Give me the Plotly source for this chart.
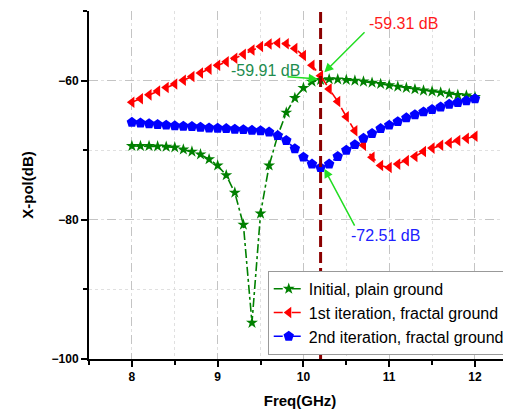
import plotly.graph_objects as go

freq = [round(8.0 + 0.1 * i, 1) for i in range(41)]

initial_plain = [-69.4, -69.4, -69.4, -69.45, -69.5, -69.6, -69.9, -70.2, -70.6, -71.3,
                 -72.2, -73.6, -76.1, -80.7, -94.8, -79.1, -72.2, -67.9, -64.6, -62.5,
                 -61.05, -60.15, -59.91, -59.8, -59.82, -59.9, -60.0, -60.14, -60.3, -60.48,
                 -60.67, -60.86, -61.05, -61.24, -61.43, -61.55, -61.7, -61.9, -62.05, -62.15,
                 -62.35]

iter1_fractal = [-63.1, -62.6, -62.05, -61.5, -61.0, -60.5, -59.95, -59.4, -58.9, -58.35,
                 -57.8, -57.3, -56.8, -56.2, -55.6, -55.1, -54.75, -54.6, -54.7, -55.4,
                 -56.4, -57.8, -59.31, -61.2, -63.0, -65.2, -67.2, -69.3, -71.0, -72.2,
                 -72.5, -72.0, -71.5, -70.9, -70.2, -69.7, -69.3, -68.95, -68.6, -68.3,
                 -68.0]

iter2_fractal = [-66.0, -66.1, -66.2, -66.3, -66.4, -66.5, -66.55, -66.6, -66.7, -66.8,
                 -66.85, -66.9, -67.0, -67.05, -67.15, -67.2, -67.4, -67.9, -68.6, -69.8,
                 -71.0, -72.0, -72.51, -72.0, -70.9, -70.0, -69.2, -68.3, -67.6, -66.9,
                 -66.4, -65.9, -65.35, -64.9, -64.5, -64.15, -63.8, -63.4, -63.15, -62.9,
                 -62.6]

series_names = ["Initial, plain ground", "1st iteration, fractal ground", "2nd iteration, fractal ground"]
marker_freq = 10.2
x_ticks = [8, 9, 10, 11, 12]
y_ticks = [-100, -80, -60]

FONT = "Liberation Sans, Arial, sans-serif"

fig = go.Figure()
fig.add_trace(go.Scatter(
    x=freq, y=initial_plain, name=series_names[0], mode="lines+markers",
    line=dict(color="#008000", width=1.6, dash="dashdot"),
    marker=dict(symbol="star", size=9, color="#008000")))
fig.add_trace(go.Scatter(
    x=freq, y=iter1_fractal, name=series_names[1], mode="lines+markers",
    line=dict(color="#ff0000", width=1.6, dash="dash"),
    marker=dict(symbol="triangle-left", size=10, color="#ff0000")))
fig.add_trace(go.Scatter(
    x=freq, y=iter2_fractal, name=series_names[2], mode="lines+markers",
    line=dict(color="#0000ff", width=1.6, dash="dash"),
    marker=dict(symbol="pentagon", size=11, color="#0000ff")))

fig.add_shape(type="line", xref="x", yref="paper", x0=marker_freq, x1=marker_freq, y0=0, y1=1,
              line=dict(color="#8b0000", width=3, dash="11px,5px"))

arrow_color = "#22dd22"
text_font = dict(family=FONT, size=16)

for tip, tail in [((10.244, -58.81), (10.73, -52.83)),
                  ((10.166, -59.76), (9.797, -59.43)),
                  ((10.244, -72.67), (10.606, -81.05))]:
    fig.add_annotation(x=tip[0], y=tip[1], ax=tail[0], ay=tail[1], xref="x", yref="y",
                       axref="x", ayref="y", text="", showarrow=True, arrowhead=2,
                       arrowsize=1.2, arrowwidth=1.5, arrowcolor=arrow_color)

fig.add_annotation(x=11.17, y=-51.82, text="-59.31 dB", showarrow=False,
                   font=dict(text_font, color="#ff1a1a"))
fig.add_annotation(x=9.553, y=-58.55, text="-59.91 dB", showarrow=False,
                   font=dict(text_font, color="#1e8c4e"))
fig.add_annotation(x=10.96, y=-82.24, text="-72.51 dB", showarrow=False,
                   font=dict(text_font, color="#2020ff"))

axis_common = dict(
    showline=True, linecolor="black", linewidth=2, ticks="outside", ticklen=6,
    tickwidth=2, tickcolor="black", zeroline=False,
    tickfont=dict(family=FONT, size=12, color="black", weight="bold"),
    showgrid=True, gridcolor="#c4c4c4", griddash="dash", gridwidth=1,
)

fig.update_xaxes(
    **axis_common, range=[7.5, 12.42], tickvals=x_ticks,
    minor=dict(dtick=0.5, tick0=7.5, ticks="outside", ticklen=4, tickwidth=2, tickcolor="black",
               showgrid=True, gridcolor="#e0e0e0", griddash="dot"),
    title=dict(text="Freq(GHz)", standoff=12,
               font=dict(family=FONT, size=15, color="black", weight="bold")),
    automargin=False,
)
fig.update_yaxes(
    **axis_common, range=[-100, -50], tickvals=y_ticks,
    minor=dict(dtick=10, tick0=-100, ticks="outside", ticklen=4, tickwidth=2, tickcolor="black",
               showgrid=True, gridcolor="#e0e0e0", griddash="dot"),
    title=dict(text="X-pol(dB)", standoff=14,
               font=dict(family=FONT, size=15, color="black", weight="bold")),
    automargin=False,
)

fig.update_layout(
    width=503, height=402,
    margin=dict(l=81, r=0, t=3, b=51),
    paper_bgcolor="white", plot_bgcolor="white",
    font=dict(family=FONT),
    legend=dict(x=0.997, xanchor="right", y=0.012, yanchor="bottom",
                bordercolor="#999999", borderwidth=1, bgcolor="white",
                font=dict(family=FONT, size=16, color="black"),
                tracegroupgap=0, itemwidth=30),
    showlegend=True,
)

fig.write_html("out.html")
